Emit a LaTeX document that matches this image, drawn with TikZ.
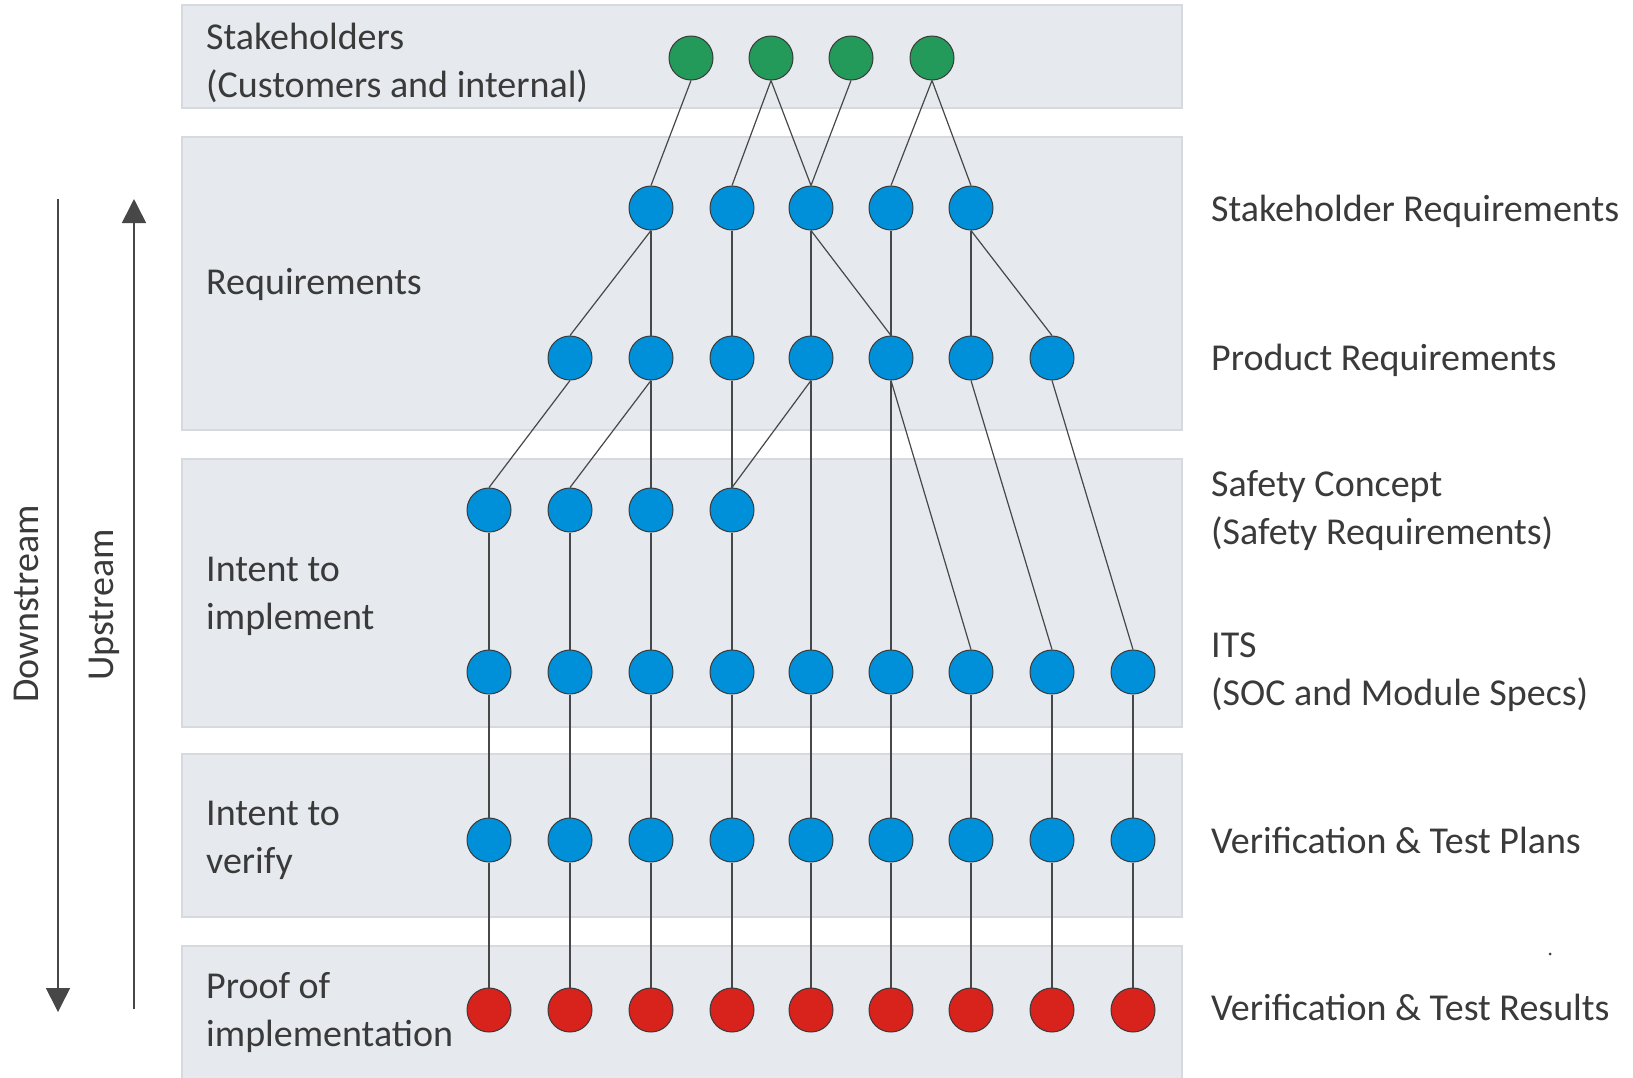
\documentclass[tikz,border=0pt]{standalone}
\usepackage{fontspec}
\setmainfont{Carlito}
\usetikzlibrary{arrows.meta}
\definecolor{bandfill}{HTML}{E6EAEE}
\definecolor{bandedge}{HTML}{D6DADE}
\definecolor{stkgreen}{HTML}{239A5A}
\definecolor{reqblue}{HTML}{0090DA}
\definecolor{resred}{HTML}{D8231C}
\definecolor{ink}{HTML}{3A3A3A}
\definecolor{wire}{HTML}{474747}

\begin{document}
\begin{tikzpicture}[x=1pt,y=-1pt,
  band/.style={fill=bandfill,draw=bandedge,line width=1.5pt},
  dot/.style={circle,draw=ink,line width=1pt,minimum size=44pt,inner sep=0pt},
  gdot/.style={dot,fill=stkgreen},
  bdot/.style={dot,fill=reqblue},
  rdot/.style={dot,fill=resred},
  link/.style={draw=wire,line width=1.2pt},
  lbl/.style={anchor=west,align=left,inner sep=0pt,text=ink,font=\fontsize{38}{48}\selectfont},
  flow/.style={draw=wire,line width=1.6pt}
]
\useasboundingbox (0,0) rectangle (1633,1077);
\fill[white] (0,0) rectangle (1633,1077);

% horizontal bands
\path[band] (182,5) rectangle (1182,108);
\path[band] (182,137) rectangle (1182,430);
\path[band] (182,459) rectangle (1182,727);
\path[band] (182,754) rectangle (1182,917);
\path[band] (182,946) rectangle (1182,1090);

% stakeholders
\foreach \i/\x in {1/691,2/771,3/851,4/932}
  \node[gdot] (g\i) at (\x,58) {};

% stakeholder requirements
\foreach \i/\x in {3/651,4/732,5/811,6/891,7/971}
  \node[bdot] (sr\i) at (\x,208) {};

% product requirements
\foreach \i/\x in {2/570,3/651,4/732,5/811,6/891,7/971,8/1052}
  \node[bdot] (pr\i) at (\x,358) {};

% safety concept
\foreach \i/\x in {1/489,2/570,3/651,4/732}
  \node[bdot] (sc\i) at (\x,510) {};

% ITS, verification plans and results
\foreach \i/\x in {1/489,2/570,3/651,4/732,5/811,6/891,7/971,8/1052,9/1133}{
  \node[bdot] (its\i) at (\x,672) {};
  \node[bdot] (vp\i) at (\x,840) {};
  \node[rdot] (vr\i) at (\x,1010) {};
  \draw[link] (its\i.south) -- (vp\i.north);
  \draw[link] (vp\i.south) -- (vr\i.north);
}

% trace links, from the bottom of one node to the top of the next
\foreach \a/\b in {g1/sr3,g2/sr4,g2/sr5,g3/sr5,g4/sr6,g4/sr7,
    sr3/pr2,sr3/pr3,sr4/pr4,sr5/pr5,sr5/pr6,sr6/pr6,sr7/pr7,sr7/pr8,
    pr2/sc1,pr3/sc2,pr3/sc3,pr4/sc4,pr5/sc4,pr5/its5,pr6/its6,pr6/its7,pr7/its8,pr8/its9,
    sc1/its1,sc2/its2,sc3/its3,sc4/its4}
  \draw[link] (\a.south) -- (\b.north);

% band titles
\node[lbl] (tStake) at (206,63) {Stakeholders\\(Customers and internal)};
\node[lbl] (tReq) at (206,284) {Requirements};
\node[lbl] (tImpl) at (206,596) {Intent to\\implement};
\node[lbl] (tVer) at (206,840) {Intent to\\verify};
\node[lbl] (tProof) at (206,1013) {Proof of\\implementation};

% level names
\node[lbl] (lSR) at (1211,211) {Stakeholder Requirements};
\node[lbl] (lPR) at (1211,360) {Product Requirements};
\node[lbl] (lSC) at (1211,511) {Safety Concept\\(Safety Requirements)};
\node[lbl] (lITS) at (1211,672) {ITS\\(SOC and Module Specs)};
\node[lbl] (lVP) at (1211,840) {Verification \& Test Plans};
\node[lbl] (lVR) at (1211,1007) {Verification \& Test Results};
\fill[ink] (1550,954) circle (1.5pt);

% direction arrows
\coordinate (dsTop) at (58,199);
\coordinate (dsEnd) at (58,1012);
\coordinate (usBot) at (134,1009);
\coordinate (usEnd) at (134,199);
\draw[flow,-{Triangle[width=24pt,length=24pt]}] (dsTop) -- (dsEnd);
\draw[flow,-{Triangle[width=24pt,length=24pt]}] (usBot) -- (usEnd);
\node[lbl,anchor=center,rotate=90] (tDown) at (26,604) {Downstream};
\node[lbl,anchor=center,rotate=90] (tUp) at (104,605) {Upstream};
\end{tikzpicture}
\end{document}
